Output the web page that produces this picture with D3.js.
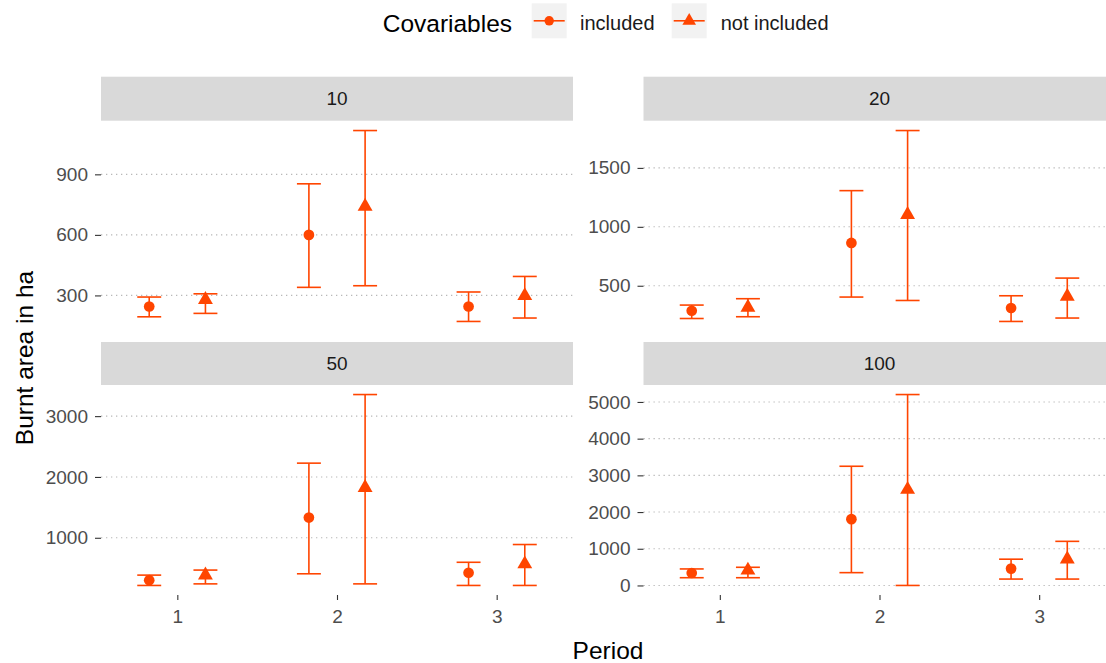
<!DOCTYPE html>
<html>
<head>
<meta charset="utf-8">
<script src="https://cdn.jsdelivr.net/npm/d3@7"></script>
<style>
    body { margin: 0; background: #fff; }
    svg { display: block; font-family: "Liberation Sans", Arial, sans-serif; }
</style>
</head>
<body>
<svg id="chart" width="1106" height="663"></svg>
<script>
var periods = [1, 2, 3];
var facets = ['10', '20', '50', '100'];
var groups = ['included', 'not included'];

// one row per facet, one value per period
var incMean = [[245, 600, 245], [288, 863, 311], [303, 1332, 425], [339, 1807, 459]];
var incLow  = [[194, 340, 171], [222, 404, 197], [216, 408, 216], [211, 349, 174]];
var incHigh = [[292, 853, 317], [336, 1307, 415], [386, 2227, 597], [450, 3248, 716]];
var notMean = [[279, 741, 298], [316, 1103, 409], [386, 1824, 569], [413, 2615, 716]];
var notLow  = [[211, 348, 188], [237, 375, 226], [242, 242, 216], [211, 0, 174]];
var notHigh = [[308, 1117, 394], [390, 1817, 565], [469, 3355, 889], [495, 5202, 1202]];

var yTicks = [
    [300, 600, 900],
    [500, 1000, 1500],
    [1000, 2000, 3000],
    [0, 1000, 2000, 3000, 4000, 5000]
];

var color = '#ff4500',
    dodge = 0.176,
    capHalf = 0.075,
    cols = [[101, 573], [643.5, 1115.5]],
    rows = [
        { stripTop: 76.7, stripBottom: 120.7, top: 121, bottom: 331 },
        { stripTop: 342, stripBottom: 385, top: 385, bottom: 595 }
    ];

var svg = d3.select('#chart');

var circle = d3.symbol().type(d3.symbolCircle).size(90),
    triangle = d3.symbol().type(d3.symbolTriangle).size(96);

facets.forEach(function( name, i ){
    var col = cols[i % 2],
        row = rows[Math.floor(i / 2)],
        lows = incLow[i].concat(notLow[i]),
        highs = incHigh[i].concat(notHigh[i]),
        lo = d3.min(lows),
        hi = d3.max(highs),
        pad = (hi - lo) * 0.05;

    var x = d3.scaleLinear().domain([0.522, 3.478]).range(col),
        y = d3.scaleLinear().domain([lo - pad, hi + pad]).range([row.bottom, row.top]);

    var g = svg.append('g').attr('class', 'panel');

    // strip
    g.append('rect')
        .attr('x', col[0]).attr('y', row.stripTop)
        .attr('width', col[1] - col[0]).attr('height', row.stripBottom - row.stripTop)
        .attr('fill', '#d9d9d9');
    g.append('text')
        .attr('x', (col[0] + col[1]) / 2)
        .attr('y', (row.stripTop + row.stripBottom) / 2)
        .attr('dy', '0.35em')
        .attr('text-anchor', 'middle')
        .attr('font-size', 19)
        .attr('fill', '#1a1a1a')
        .text(name);

    // grid
    g.selectAll('line.grid').data(yTicks[i]).enter().append('line')
        .attr('class', 'grid')
        .attr('x1', col[0]).attr('x2', col[1])
        .attr('y1', function(d){ return y(d); })
        .attr('y2', function(d){ return y(d); })
        .attr('stroke', '#b8b8b8')
        .attr('stroke-width', 1.1)
        .attr('stroke-dasharray', '1.3,3.7');

    var yAxis = d3.axisLeft(y).tickValues(yTicks[i]).tickSize(6).tickPadding(7).tickFormat(d3.format('d'));
    var ya = g.append('g').attr('transform', 'translate(' + col[0] + ',0)').call(yAxis);
    ya.select('.domain').remove();
    ya.selectAll('line').attr('stroke', '#333').attr('stroke-width', 1.1);
    ya.selectAll('text').attr('font-size', 19).attr('fill', '#4d4d4d')
        .attr('font-family', '"Liberation Sans", Arial, sans-serif');

    if ( row === rows[1] ){
        var xAxis = d3.axisBottom(x).tickValues(periods).tickSize(5).tickPadding(10).tickFormat(d3.format('d'));
        var xa = g.append('g').attr('transform', 'translate(0,' + row.bottom + ')').call(xAxis);
        xa.select('.domain').remove();
        xa.selectAll('line').attr('stroke', '#333').attr('stroke-width', 1.1);
        xa.selectAll('text').attr('font-size', 19).attr('fill', '#4d4d4d')
            .attr('font-family', '"Liberation Sans", Arial, sans-serif');
    }

    var series = [
        { off: -dodge, mean: incMean[i], low: incLow[i], high: incHigh[i], shape: circle },
        { off: dodge, mean: notMean[i], low: notLow[i], high: notHigh[i], shape: triangle }
    ];

    series.forEach(function( s ){
        periods.forEach(function( p, k ){
            var cx = p + s.off;
            var bar = g.append('g')
                .attr('stroke', color)
                .attr('stroke-width', 1.6)
                .attr('fill', 'none');
            bar.append('line')
                .attr('x1', x(cx)).attr('x2', x(cx))
                .attr('y1', y(s.low[k])).attr('y2', y(s.high[k]));
            bar.append('line')
                .attr('x1', x(cx - capHalf)).attr('x2', x(cx + capHalf))
                .attr('y1', y(s.low[k])).attr('y2', y(s.low[k]));
            bar.append('line')
                .attr('x1', x(cx - capHalf)).attr('x2', x(cx + capHalf))
                .attr('y1', y(s.high[k])).attr('y2', y(s.high[k]));

            g.append('path')
                .attr('d', s.shape())
                .attr('transform', 'translate(' + x(cx) + ',' + y(s.mean[k]) + ')')
                .attr('fill', color);
        });
    });
});

// axis titles
svg.append('text')
    .attr('x', 608).attr('y', 650).attr('dy', '0.35em')
    .attr('text-anchor', 'middle')
    .attr('font-size', 24.5)
    .text('Period');

svg.append('text')
    .attr('transform', 'translate(24,358) rotate(-90)')
    .attr('dy', '0.35em')
    .attr('text-anchor', 'middle')
    .attr('font-size', 24.5)
    .text('Burnt area in ha');

// legend
var legend = svg.append('g').attr('class', 'legend');
legend.append('text')
    .attr('x', 382.7).attr('y', 31.7)
    .attr('font-size', 24.5)
    .text('Covariables');

var keyX = [531.7, 671.7],
    labelX = [580, 720.7],
    keyShapes = [d3.symbol().type(d3.symbolCircle).size(70), d3.symbol().type(d3.symbolTriangle).size(80)];

groups.forEach(function( label, j ){
    var kx = keyX[j];
    legend.append('rect')
        .attr('x', kx).attr('y', 3.3)
        .attr('width', 35).attr('height', 35)
        .attr('fill', '#f2f2f2');
    legend.append('line')
        .attr('x1', kx + 2).attr('x2', kx + 33)
        .attr('y1', 20.8).attr('y2', 20.8)
        .attr('stroke', color).attr('stroke-width', 1.6);
    legend.append('path')
        .attr('d', keyShapes[j]())
        .attr('transform', 'translate(' + (kx + 17.5) + ',20.8)')
        .attr('fill', color);
    legend.append('text')
        .attr('x', labelX[j]).attr('y', 30)
        .attr('font-size', 20)
        .attr('fill', '#1a1a1a')
        .text(label);
});
</script>
</body>
</html>
